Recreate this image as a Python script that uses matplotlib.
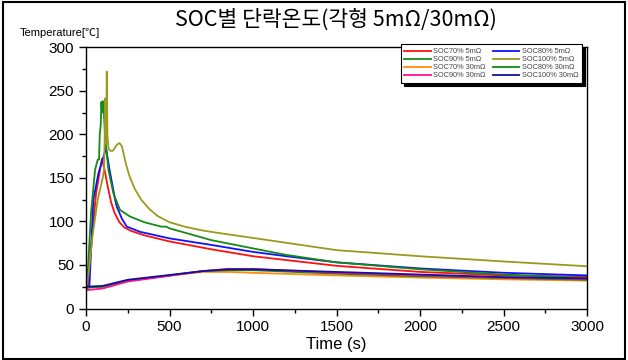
import numpy as np
import matplotlib
matplotlib.use('Agg')
import matplotlib.pyplot as plt
from matplotlib.patches import Rectangle
from matplotlib.ticker import MultipleLocator

plt.rcParams['font.family'] = ['Liberation Sans', 'DejaVu Sans']

# SOC70% 5mOhm
t_r = [0, 10, 30, 60, 95, 110, 130, 150, 170, 200, 230, 270, 350, 500, 750, 1000, 1500, 2000, 2500, 3000]
T_r = [22, 25, 70, 132, 172, 160, 140, 122, 110, 99, 93, 89, 84, 77, 68, 60, 49, 42, 38, 36.5]
# SOC80% 5mOhm
t_b = [0, 20, 44, 74, 120, 140, 174, 184, 215, 244, 324, 500, 750, 1000, 1200, 1500, 2000, 2500, 3000]
T_b = [22, 25, 125, 155, 184, 160, 125, 117, 103, 94, 88, 80.5, 73, 65, 60, 53, 46, 41, 38]
# SOC90% 5mOhm
t_g = [0, 10, 30, 54, 70, 78, 82, 88, 92, 96, 100, 104, 114, 134, 164, 204, 264, 350, 450, 480, 500, 750, 1000,
       1200, 1500, 2000, 2500, 3000]
T_g = [23, 40, 110, 159, 171, 171, 199, 211, 237, 225, 238, 236, 197, 159, 132, 113, 105.5, 99, 94, 94, 92, 78.5, 69,
       61.5, 53, 45, 39, 35]
# SOC100% 5mOhm
t_o = [0, 15, 40, 70, 100, 108, 112, 114, 117, 121, 124, 128, 134, 145, 160, 185, 200, 215, 240, 260, 290, 330,
       380, 430, 500, 600, 700, 800, 1000, 1500, 2000, 2500, 3000]
T_o = [22, 40, 85, 125, 150, 160, 200, 241, 190, 200, 272, 200, 184, 181, 181, 188, 190, 186, 165, 152, 138, 125,
       114, 106, 99, 93.5, 89.5, 86.5, 81, 67, 60, 54, 48.5]
# 30mOhm series
t_30 = [0, 100, 250, 500, 700, 850, 1000, 1500, 2000, 2500, 3000]
T_or = [24, 25, 32, 38, 42, 42, 41, 38, 35.5, 33.5, 32]
T_g30 = [24, 25, 32, 38, 43, 44, 44, 40, 37, 35, 33]
T_mg = [21, 23, 31, 37.5, 43, 45.5, 45.5, 41, 38, 35.5, 34]
T_nv = [25, 26, 33, 38.5, 43, 45, 45, 42, 39, 36, 34.5]

fig = plt.figure(figsize=(6.28, 3.6), dpi=100)
ax = fig.add_axes([0.137, 0.143, 0.798, 0.726])

lw = 1.3
l1, = ax.plot(t_r, T_r, color='#ff1010', lw=lw, label='SOC70% 5mΩ')
l2, = ax.plot(t_b, T_b, color='#1010ff', lw=lw, label='SOC80% 5mΩ')
l3, = ax.plot(t_g, T_g, color='#168a16', lw=lw, label='SOC90% 5mΩ')
l4, = ax.plot(t_o, T_o, color='#9a9a1e', lw=lw, label='SOC100% 5mΩ')
l5, = ax.plot(t_30, T_or, color='#ff8c10', lw=lw, label='SOC70% 30mΩ')
l6, = ax.plot(t_30, T_g30, color='#108a10', lw=lw, label='SOC80% 30mΩ')
l7, = ax.plot(t_30, T_mg, color='#ff1090', lw=lw, label='SOC90% 30mΩ')
l8, = ax.plot(t_30, T_nv, color='#1010a0', lw=lw, label='SOC100% 30mΩ')

ax.set_xlim(0, 3000)
ax.set_ylim(0, 300)
ax.xaxis.set_major_locator(MultipleLocator(500))
ax.xaxis.set_minor_locator(MultipleLocator(250))
ax.yaxis.set_major_locator(MultipleLocator(50))
ax.yaxis.set_minor_locator(MultipleLocator(25))
ax.tick_params(which='major', direction='out', length=5, width=1, labelsize=11, top=False, right=False)
ax.tick_params(which='minor', direction='out', length=3, width=1, top=False, right=False)
for s in ax.spines.values():
    s.set_linewidth(1)
ax.set_xlabel('Time (s)', fontsize=12, labelpad=2)

handles = [l1, l3, l5, l7, l2, l4, l6, l8]
leg = ax.legend(handles=handles, ncol=2, loc='upper right', bbox_to_anchor=(0.997, 1.025),
                fontsize=5.3, frameon=True, fancybox=False, edgecolor='black',
                shadow={'color': 'black', 'alpha': 1, 'ox': 2.5, 'oy': -2.5},
                handlelength=3.6, handletextpad=0.3, columnspacing=1.0,
                labelspacing=0.12, borderpad=0.5)
leg.get_frame().set_linewidth(0.8)
for txt in leg.get_texts():
    txt.set_color('#444444')

fig.text(0.535, 0.945, 'SOC별 단락온도(각형 5mΩ/30mΩ)', ha='center', va='center', fontsize=15.5,
         family=['Noto Sans CJK KR', 'DejaVu Sans'])
fig.text(0.032, 0.908, 'Temperature[℃]', ha='left', va='center', fontsize=8,
         family=['Liberation Sans', 'Noto Sans CJK KR', 'DejaVu Sans'])

fig.patches.append(Rectangle((0.004, 0.004), 0.992, 0.99, transform=fig.transFigure,
                             fill=False, edgecolor='black', linewidth=1.5))

fig.savefig('out.png', dpi=100)
